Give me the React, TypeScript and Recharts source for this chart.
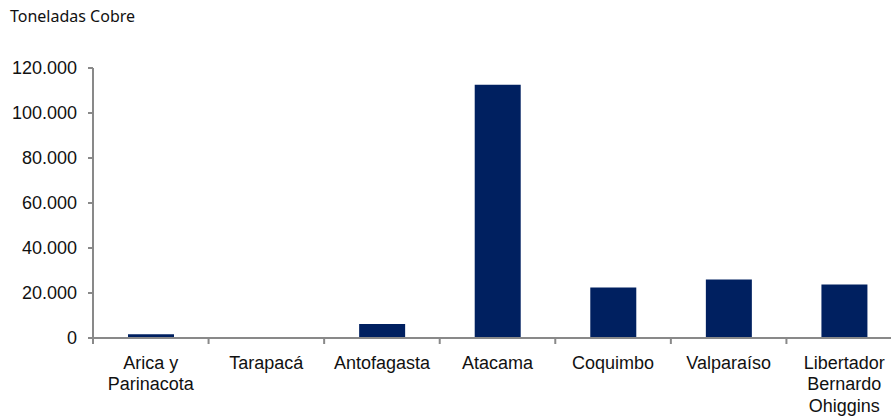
import React from "react";
import { BarChart, Bar, XAxis, YAxis } from "recharts";

// Toneladas de cobre por región
const REGIONS = [
  "Arica y\nParinacota",
  "Tarapacá",
  "Antofagasta",
  "Atacama",
  "Coquimbo",
  "Valparaíso",
  "Libertador\nBernardo\nOhiggins",
];
const TONNES = [1700, 0, 6200, 112600, 22500, 26000, 23800];
const Y_TICKS = [0, 20000, 40000, 60000, 80000, 100000, 120000];

const data = REGIONS.map((region, i) => ({ region, tonnes: TONNES[i] }));

const AXIS = "#898989";
const NAVY = "#002060";
const FONT = "'Liberation Sans', Arial, sans-serif";

const fmt = (v: number) => String(v).replace(/\B(?=(\d{3})+(?!\d))/g, ".");

// category label plus a tick mark on the left edge of its band (Excel style)
function RegionTick(props: any) {
  const { x, y, payload } = props;
  const half = payload.offset || 0;
  const lines = String(payload.value).split("\n");
  return (
    <g>
      <line x1={x - half} x2={x - half} y1={y} y2={y + 6} stroke={AXIS} strokeWidth={2} />
      <text x={x} y={y + 18} textAnchor="middle" fill="#111" fontSize={18} fontFamily={FONT}>
        {lines.map((line, i) => (
          <tspan key={i} x={x} dy={i === 0 ? "0.71em" : "1.2em"}>
            {line}
          </tspan>
        ))}
      </text>
    </g>
  );
}

export default function App() {
  return (
    <>
      <div
        style={{
          position: "absolute",
          left: 10,
          top: 4,
          fontFamily: "'Noto Sans', sans-serif",
          fontSize: 16,
          lineHeight: "24px",
          color: "#111",
        }}
      >
        Toneladas Cobre
      </div>
      <div style={{ position: "absolute", left: 8, top: 8, width: 883, height: 408, overflow: "hidden" }}>
        <BarChart
          width={894}
          height={408}
          data={data}
          margin={{ top: 60, right: 0, bottom: 0, left: 0 }}
        >
          <XAxis
            dataKey="region"
            interval={0}
            height={78}
            tickLine={false}
            axisLine={{ stroke: AXIS, strokeWidth: 2 }}
            tickSize={0}
            tickMargin={0}
            tick={<RegionTick />}
          />
          <YAxis
            width={85}
            domain={[0, 120000]}
            ticks={Y_TICKS}
            tickFormatter={fmt}
            axisLine={{ stroke: AXIS, strokeWidth: 2 }}
            tickLine={{ stroke: AXIS, strokeWidth: 2 }}
            tickSize={5}
            tickMargin={11}
            tick={{ fill: "#111", fontSize: 18, fontFamily: FONT }}
          />
          <Bar dataKey="tonnes" fill={NAVY} barSize={46} isAnimationActive={false} />
        </BarChart>
      </div>
    </>
  );
}
